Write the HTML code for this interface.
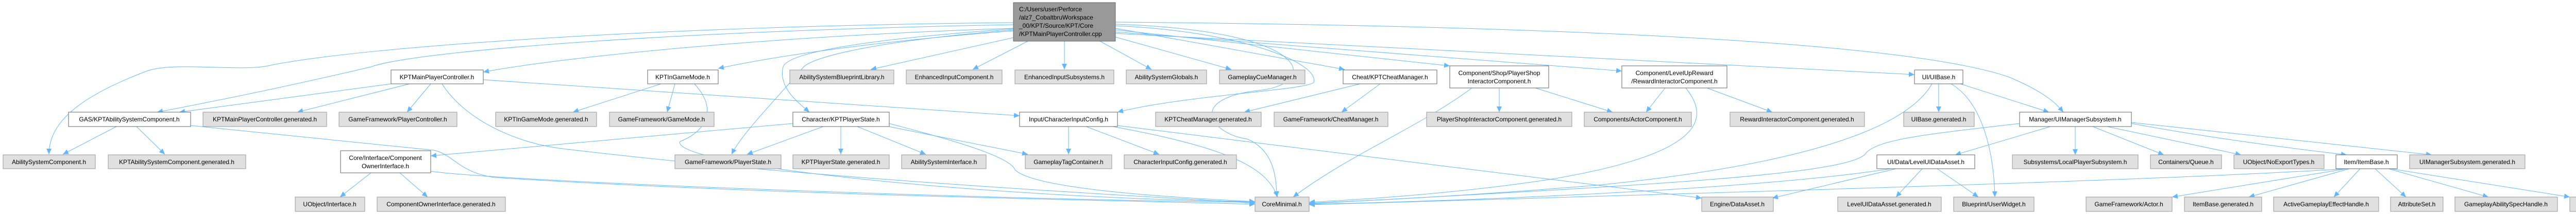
<!DOCTYPE html>
<html><head><meta charset="utf-8"><style>
html,body{margin:0;padding:0;background:#fff;}
svg{display:block;}
text{font-family:"Liberation Sans",Arial,sans-serif;font-size:12px;fill:#000;}
.g{fill:#e0e0e0;stroke:#999;stroke-width:1;}
.w{fill:#fff;stroke:#666;stroke-width:1;}
.m{fill:#999;stroke:#666;stroke-width:1;}
path.e{fill:none;stroke:#63b8ff;stroke-width:1;marker-end:url(#ah);}
</style></head><body>
<svg width="5170" height="416" viewBox="0 0 5170 416" xmlns="http://www.w3.org/2000/svg">
<defs><marker id="ah" markerUnits="userSpaceOnUse" markerWidth="12" markerHeight="10" refX="11" refY="5" orient="auto"><path d="M0,0 L11,5 L0,10 z" fill="#63b8ff"/></marker></defs>
<g>
<!-- main edges -->
<path class="e" d="M1967,44 C1300,50 700,90 520,128 C460,140 330,118 280,140 C150,190 95,240 95,300"/>
<path class="e" d="M1967,48 C1300,60 800,100 720,130 C550,170 400,200 305,218"/>
<path class="e" d="M1967,55 C1500,70 1100,110 938,140"/>
<path class="e" d="M1967,60 C1700,80 1500,110 1394,133"/>
<path class="e" d="M1967,56 C1700,75 1530,100 1520,130 C1510,170 1550,200 1571,218"/>
<path class="e" d="M1967,58 C1700,80 1580,110 1560,130 C1500,200 1440,260 1420,300"/>
<path class="e" d="M1990,68 L1690,135"/>
<path class="e" d="M1995,80 L1888,135"/>
<path class="e" d="M2066,80 L2066,135"/>
<path class="e" d="M2135,80 L2235,135"/>
<path class="e" d="M2165,72 L2390,135"/>
<path class="e" d="M2165,50 C2400,60 2560,120 2550,160 C2540,175 2300,185 2169,218"/>
<path class="e" d="M2165,47 C2550,60 2560,160 2450,175 C2300,190 2350,260 2420,270 C2470,290 2478,340 2478,383"/>
<path class="e" d="M2165,55 L2610,135"/>
<path class="e" d="M2165,58 L2814,128"/>
<path class="e" d="M2165,62 L3148,138"/>
<path class="e" d="M2165,65 L3716,145"/>
<path class="e" d="M2165,43 C3000,50 3700,80 3900,150 C3970,180 3990,200 4005,218"/>
<!-- KPTMainPlayerController.h -->
<path class="e" d="M759,163 L348,218"/>
<path class="e" d="M795,163 L577,218"/>
<path class="e" d="M836,163 L790,218"/>
<path class="e" d="M938,155 L1979,225"/>
<path class="e" d="M858,163 C900,230 1000,280 1100,290 C1600,350 2200,380 2436,395"/>
<!-- KPTInGameMode -->
<path class="e" d="M1283,163 L1112,218"/>
<path class="e" d="M1310,163 L1295,218"/>
<path class="e" d="M1348,163 C1400,220 1360,260 1320,275 C1300,320 1900,385 2436,392"/>
<!-- GAS comp -->
<path class="e" d="M226,246 L122,300"/>
<path class="e" d="M265,246 L320,300"/>
<path class="e" d="M370,244 L842,292 C880,300 890,335 960,345 C1500,380 2200,390 2436,397"/>
<!-- ComponentOwnerInterface -->
<path class="e" d="M720,336 L660,383"/>
<path class="e" d="M776,336 L830,383"/>
<path class="e" d="M836,333 C1000,355 2000,390 2436,393"/>
<!-- PlayerState -->
<path class="e" d="M1598,246 L1450,300"/>
<path class="e" d="M1632,246 L1632,300"/>
<path class="e" d="M1664,246 L1797,300"/>
<path class="e" d="M1705,242 L1995,300"/>
<path class="e" d="M1539,240 L836,303"/>
<path class="e" d="M1726,240 C1800,260 1960,300 1970,330 C2010,370 2300,385 2436,392"/>
<!-- InputConfig -->
<path class="e" d="M2074,246 L2074,300"/>
<path class="e" d="M2108,246 L2250,300"/>
<path class="e" d="M2160,246 C2400,290 2460,330 2480,383"/>
<path class="e" d="M2169,244 L3303,385"/>
<!-- Cheat -->
<path class="e" d="M2640,163 L2415,218"/>
<path class="e" d="M2679,163 L2604,218"/>
<!-- PlayerShop -->
<path class="e" d="M2910,171 L2910,218"/>
<path class="e" d="M2980,171 L3130,218"/>
<path class="e" d="M2857,171 C2750,250 2620,300 2510,383"/>
<!-- Reward -->
<path class="e" d="M3232,171 L3195,218"/>
<path class="e" d="M3313,171 L3440,218"/>
<path class="e" d="M3272,171 C3320,230 3310,300 3000,350 C2800,380 2600,390 2541,393"/>
<!-- UIBase -->
<path class="e" d="M3763,163 L3763,218"/>
<path class="e" d="M3787,163 C3850,200 3870,300 3872,383"/>
<path class="e" d="M3750,163 C3700,250 3500,320 3100,360 C2800,385 2600,392 2541,395"/>
<path class="e" d="M3805,163 L3977,218"/>
<!-- UIManager -->
<path class="e" d="M3980,246 L3795,301"/>
<path class="e" d="M4028,246 L4028,301"/>
<path class="e" d="M4062,246 L4200,301"/>
<path class="e" d="M4090,246 L4350,301"/>
<path class="e" d="M4137,240 C4300,270 4460,290 4555,301"/>
<path class="e" d="M4137,238 L4720,301"/>
<path class="e" d="M3920,240 C3750,260 3640,270 3620,300 C3580,340 3200,360 2541,396"/>
<!-- LevelUIDataAsset -->
<path class="e" d="M3680,328 L3440,385"/>
<path class="e" d="M3731,328 L3680,383"/>
<path class="e" d="M3760,328 L3840,383"/>
<path class="e" d="M3670,328 C3400,370 2800,392 2541,397"/>
<!-- ItemBase -->
<path class="e" d="M4555,328 C4200,350 3500,370 2541,398"/>
<path class="e" d="M4555,328 L4216,383"/>
<path class="e" d="M4560,328 L4365,383"/>
<path class="e" d="M4581,328 L4530,383"/>
<path class="e" d="M4610,328 L4670,383"/>
<path class="e" d="M4636,328 L4830,383"/>
<path class="e" d="M4640,328 L4988,383"/>
</g>

<!-- main node -->
<rect class="m" x="1967" y="5" width="198" height="75"/>
<text x="1978" y="22">C:/Users/user/Perforce</text>
<text x="1978" y="38">/alz7_CobaltbruWorkspace</text>
<text x="1978" y="54">_00/KPT/Source/KPT/Core</text>
<text x="1978" y="70">/KPTMainPlayerController.cpp</text>

<g text-anchor="middle">
<!-- row1 -->
<rect class="w" x="759" y="136" width="179" height="27"/><text x="848" y="154">KPTMainPlayerController.h</text>
<rect class="w" x="1257" y="136" width="137" height="27"/><text x="1325" y="154">KPTInGameMode.h</text>
<rect class="g" x="1533" y="136" width="202" height="27"/><text x="1634" y="154">AbilitySystemBlueprintLibrary.h</text>
<rect class="g" x="1759" y="136" width="186" height="27"/><text x="1852" y="154">EnhancedInputComponent.h</text>
<rect class="g" x="1970" y="136" width="192" height="27"/><text x="2066" y="154">EnhancedInputSubsystems.h</text>
<rect class="g" x="2186" y="136" width="156" height="27"/><text x="2264" y="154">AbilitySystemGlobals.h</text>
<rect class="g" x="2367" y="136" width="166" height="27"/><text x="2450" y="154">GameplayCueManager.h</text>
<rect class="w" x="2607" y="136" width="182" height="27"/><text x="2698" y="154">Cheat/KPTCheatManager.h</text>
<rect class="w" x="2814" y="128" width="192" height="43"/><text x="2910" y="146">Component/Shop/PlayerShop</text><text x="2910" y="162">InteractorComponent.h</text>
<rect class="w" x="3148" y="128" width="204" height="43"/><text x="3250" y="146">Component/LevelUpReward</text><text x="3250" y="162">/RewardInteractorComponent.h</text>
<rect class="w" x="3716" y="136" width="94" height="27"/><text x="3763" y="154">UI/UIBase.h</text>
<!-- row2 -->
<rect class="w" x="133" y="218" width="237" height="28"/><text x="251" y="236">GAS/KPTAbilitySystemComponent.h</text>
<rect class="g" x="394" y="218" width="240" height="28"/><text x="514" y="236">KPTMainPlayerController.generated.h</text>
<rect class="g" x="658" y="218" width="229" height="28"/><text x="772" y="236">GameFramework/PlayerController.h</text>
<rect class="g" x="962" y="218" width="196" height="28"/><text x="1060" y="236">KPTInGameMode.generated.h</text>
<rect class="g" x="1183" y="218" width="203" height="28"/><text x="1284" y="236">GameFramework/GameMode.h</text>
<rect class="w" x="1539" y="218" width="187" height="28"/><text x="1632" y="236">Character/KPTPlayerState.h</text>
<rect class="w" x="1979" y="218" width="190" height="28"/><text x="2074" y="236">Input/CharacterInputConfig.h</text>
<rect class="g" x="2243" y="218" width="205" height="28"/><text x="2345" y="236">KPTCheatManager.generated.h</text>
<rect class="g" x="2473" y="218" width="221" height="28"/><text x="2583" y="236">GameFramework/CheatManager.h</text>
<rect class="g" x="2769" y="218" width="282" height="28"/><text x="2910" y="236">PlayerShopInteractorComponent.generated.h</text>
<rect class="g" x="3075" y="218" width="208" height="28"/><text x="3179" y="236">Components/ActorComponent.h</text>
<rect class="g" x="3358" y="218" width="261" height="28"/><text x="3488" y="236">RewardInteractorComponent.generated.h</text>
<rect class="g" x="3695" y="218" width="137" height="28"/><text x="3763" y="236">UIBase.generated.h</text>
<rect class="w" x="3920" y="218" width="217" height="28"/><text x="4028" y="236">Manager/UIManagerSubsystem.h</text>
<!-- row3 -->
<rect class="g" x="6" y="301" width="179" height="27"/><text x="95" y="319">AbilitySystemComponent.h</text>
<rect class="g" x="210" y="301" width="267" height="27"/><text x="343" y="319">KPTAbilitySystemComponent.generated.h</text>
<rect class="w" x="661" y="293" width="175" height="43"/><text x="748" y="311">Core/Interface/Component</text><text x="748" y="327">OwnerInterface.h</text>
<rect class="g" x="1310" y="301" width="206" height="27"/><text x="1413" y="319">GameFramework/PlayerState.h</text>
<rect class="g" x="1539" y="301" width="187" height="27"/><text x="1632" y="319">KPTPlayerState.generated.h</text>
<rect class="g" x="1750" y="301" width="164" height="27"/><text x="1832" y="319">AbilitySystemInterface.h</text>
<rect class="g" x="1990" y="301" width="168" height="27"/><text x="2074" y="319">GameplayTagContainer.h</text>
<rect class="g" x="2182" y="301" width="218" height="27"/><text x="2291" y="319">CharacterInputConfig.generated.h</text>
<rect class="w" x="3643" y="301" width="190" height="27"/><text x="3738" y="319">UI/Data/LevelUIDataAsset.h</text>
<rect class="g" x="3906" y="301" width="244" height="27"/><text x="4028" y="319">Subsystems/LocalPlayerSubsystem.h</text>
<rect class="g" x="4174" y="301" width="138" height="27"/><text x="4243" y="319">Containers/Queue.h</text>
<rect class="g" x="4336" y="301" width="175" height="27"/><text x="4423" y="319">UObject/NoExportTypes.h</text>
<rect class="w" x="4534" y="301" width="119" height="27"/><text x="4593" y="319">Item/ItemBase.h</text>
<rect class="g" x="4677" y="301" width="224" height="27"/><text x="4789" y="319">UIManagerSubsystem.generated.h</text>
<!-- row4 -->
<rect class="g" x="573" y="383" width="135" height="28"/><text x="640" y="401">UObject/Interface.h</text>
<rect class="g" x="732" y="383" width="249" height="28"/><text x="856" y="401">ComponentOwnerInterface.generated.h</text>
<rect class="g" x="2436" y="383" width="105" height="28"/><text x="2488" y="401">CoreMinimal.h</text>
<rect class="g" x="3303" y="383" width="139" height="28"/><text x="3372" y="401">Engine/DataAsset.h</text>
<rect class="g" x="3567" y="383" width="201" height="28"/><text x="3667" y="401">LevelUIDataAsset.generated.h</text>
<rect class="g" x="3792" y="383" width="156" height="28"/><text x="3870" y="401">Blueprint/UserWidget.h</text>
<rect class="g" x="4049" y="383" width="167" height="28"/><text x="4132" y="401">GameFramework/Actor.h</text>
<rect class="g" x="4240" y="383" width="150" height="28"/><text x="4315" y="401">ItemBase.generated.h</text>
<rect class="g" x="4413" y="383" width="204" height="28"/><text x="4515" y="401">ActiveGameplayEffectHandle.h</text>
<rect class="g" x="4640" y="383" width="102" height="28"/><text x="4691" y="401">AttributeSet.h</text>
<rect class="g" x="4765" y="383" width="199" height="28"/><text x="4864" y="401">GameplayAbilitySpecHandle.h</text>
<rect class="g" x="4988" y="383" width="177" height="28"/><text x="5076" y="401">Abilities/GameplayAbility.h</text>
</g>
</svg>
</body></html>
